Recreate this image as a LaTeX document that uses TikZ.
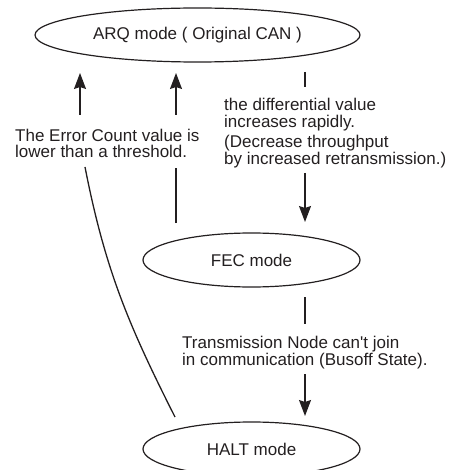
\documentclass[tikz,border=0pt]{standalone}
\usepackage{fontspec}
\setmainfont{Liberation Sans}[Ligatures=TeXOff]
\usetikzlibrary{shapes.geometric,arrows.meta}
\definecolor{ink}{HTML}{231F20}
\begin{document}
\begin{tikzpicture}[x=1pt,y=-1pt,
  mode/.style={draw=ink, ellipse, line width=1.2pt, inner sep=0pt, minimum height=54pt, text=ink, font=\fontsize{17}{17}\selectfont},
  lbl/.style={anchor=base west, inner sep=0pt, text=ink, font=\fontsize{17}{17}\selectfont},
  conn/.style={draw=ink, line width=1.3pt},
  arr/.style={conn, -{Stealth[length=16pt,width=12pt,inset=2pt]}}]
\useasboundingbox (0,0) rectangle (452,470);
% modes
\node[mode, minimum width=325pt] (arq) at (197.5,35) {ARQ mode ( Original CAN )};
\node[mode, minimum width=217pt] (fec) at (251.5,260) {FEC mode};
\node[mode, minimum width=217pt] (halt) at (251.5,449) {HALT mode};
% free ends of connectors
\coordinate (lA) at (80,115);  \coordinate (lB) at (80,73);
\coordinate (mA) at (176,115); \coordinate (mB) at (176,73);
\coordinate (mC) at (176,168); \coordinate (mD) at (176,223);
\coordinate (cA) at (85,167);  \coordinate (cB) at (175,417);
\coordinate (rA) at (305,72);  \coordinate (rB) at (305,87);
\coordinate (rC) at (305,173); \coordinate (rD) at (305,222);
\coordinate (sA) at (305,297); \coordinate (sB) at (305,324);
\coordinate (sC) at (305,374); \coordinate (sD) at (305,416);
% HALT -> ARQ
\draw[conn] (cB) .. controls (128,324) and (105,269) .. (cA);
\draw[arr] (lA) -- (lB);
% FEC -> ARQ
\draw[conn] (mD) -- (mC);
\draw[arr] (mA) -- (mB);
% ARQ -> FEC
\draw[conn] (rA) -- (rB);
\draw[arr] (rC) -- (rD);
% FEC -> HALT
\draw[conn] (sA) -- (sB);
\draw[arr] (sC) -- (sD);
% labels
\node[lbl] (l1) at (15,141.5) {The Error Count value is};
\node[lbl] (l2) at (15,158) {lower than a threshold.};
\node[lbl] (r1) at (224,111) {the differential value};
\node[lbl] (r2) at (224,128) {increases rapidly.};
\node[lbl] (r3) at (224,148) {(Decrease throughput};
\node[lbl] (r4) at (224,165) {by increased retransmission.)};
\node[lbl] (b1) at (182,348) {Transmission Node can't join};
\node[lbl] (b2) at (182,365) {in communication (Busoff State).};
\end{tikzpicture}
\end{document}
